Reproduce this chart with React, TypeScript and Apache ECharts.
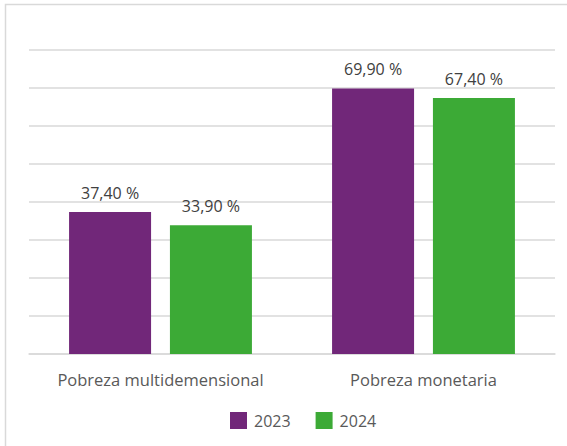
import React, { useEffect, useRef } from "react";
import * as echarts from "echarts";

const categories = ["Pobreza multidemensional", "Pobreza monetaria"];
const seriesNames = ["2023", "2024"];
const values2023 = [37.4, 69.9];
const values2024 = [33.9, 67.4];
const colors = ["#712779", "#3caa36"];

const fmt = (v: number) => v.toFixed(2).replace(".", ",") + " %";

export default function App() {
  const ref = useRef<HTMLDivElement>(null);
  useEffect(() => {
    document.body.style.margin = "0";
    const chart = echarts.init(ref.current!, null, { renderer: "svg" });
    const font = "'Open Sans', 'Noto Sans', sans-serif";
    const mkSeries = (name: string, data: number[], color: string) => ({
      name,
      type: "bar",
      data,
      barWidth: 82,
      barGap: "23%",
      itemStyle: { color },
      label: {
        show: true,
        position: "top",
        distance: 11,
        formatter: (p: any) => fmt(p.value),
        color: "#404040",
        fontSize: 16,
        fontFamily: font,
      },
    });
    chart.setOption({
      animation: false,
      textStyle: { fontFamily: font },
      graphic: [
        {
          type: "rect",
          shape: { x: 5.5, y: 4.5, width: 700, height: 600 },
          style: { fill: "none", stroke: "#d9d9d9", lineWidth: 1.5 },
          silent: true,
        },
      ],
      grid: { left: 29, right: 12, top: 50, bottom: 92 },
      legend: {
        left: 225,
        top: 407,
        itemWidth: 17,
        itemHeight: 17,
        itemGap: 25,
        icon: "rect",
        textStyle: { color: "#595959", fontSize: 16, fontFamily: font, padding: [0, 0, 0, 2] },
        data: seriesNames,
      },
      xAxis: {
        type: "category",
        data: categories,
        axisLine: { lineStyle: { color: "#d9d9d9", width: 1.5 } },
        axisTick: { show: false },
        axisLabel: {
          color: "#595959",
          fontSize: 16.5,
          margin: 17,
          fontFamily: font,
          interval: 0,
          hideOverlap: false,
        },
      },
      yAxis: {
        type: "value",
        min: 0,
        max: 80,
        interval: 10,
        axisLabel: { show: false },
        axisLine: { show: false },
        axisTick: { show: false },
        splitLine: { lineStyle: { color: "#d9d9d9", width: 1.5 } },
      },
      series: [
        mkSeries(seriesNames[0], values2023, colors[0]),
        mkSeries(seriesNames[1], values2024, colors[1]),
      ],
    });
    return () => chart.dispose();
  }, []);
  return <div ref={ref} style={{ width: 567, height: 446 }} />;
}
